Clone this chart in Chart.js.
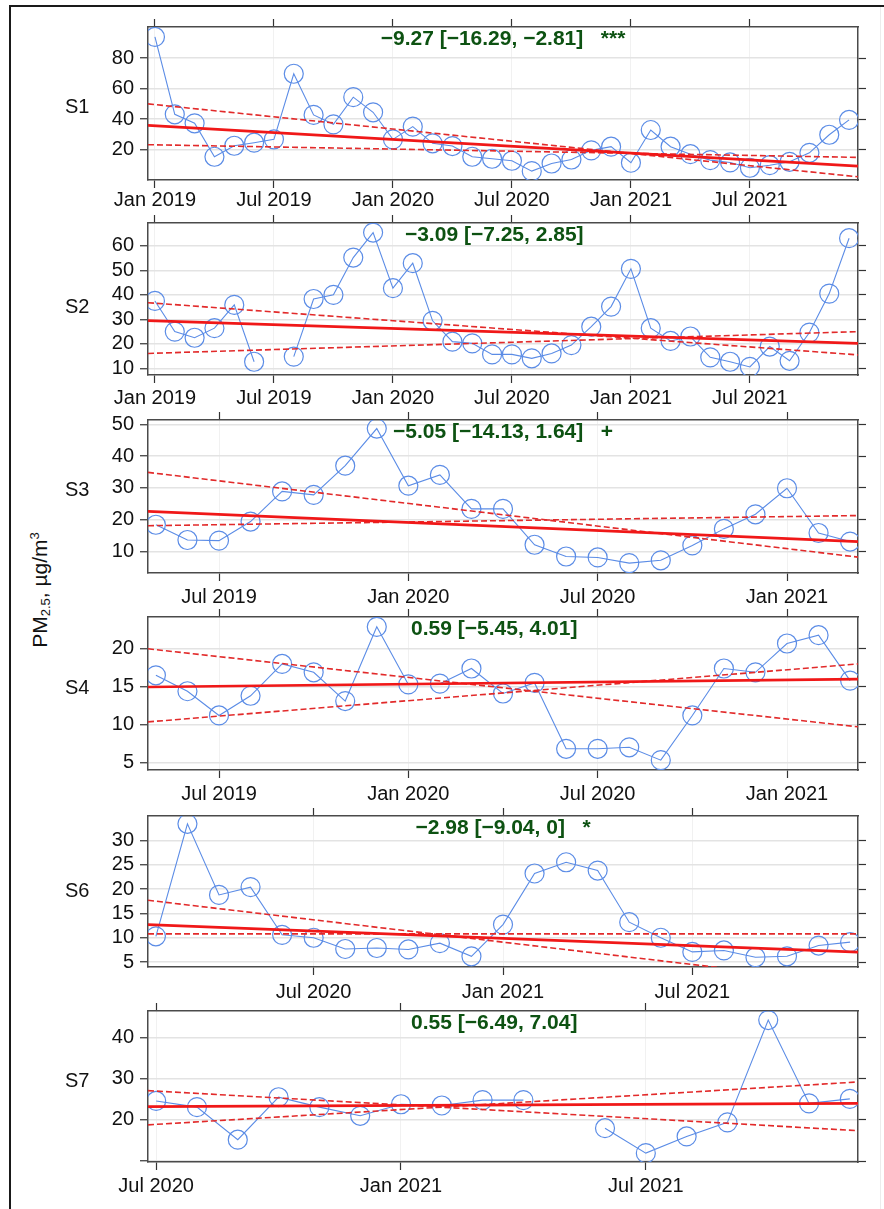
<!DOCTYPE html>
<html><head><meta charset="utf-8">
<script src="https://cdn.jsdelivr.net/npm/chart.js@4.4.1/dist/chart.umd.min.js"></script>
<style>
html,body{margin:0;padding:0;background:#fff;}
#fig{position:relative;width:884px;height:1209px;overflow:hidden;font-family:"Liberation Sans",Arial,sans-serif;background:#fff;}
#frame{position:absolute;left:9px;top:5px;width:900px;height:1300px;border-left:2px solid #1a1a1a;border-top:2px solid #1a1a1a;}
#rline{position:absolute;left:880px;top:7px;width:1px;height:1202px;background:#ececec;}
canvas{position:absolute;left:0;}
#ytitle{position:absolute;left:40px;top:590px;transform:translate(-50%,-50%) rotate(-90deg);font-size:21px;white-space:nowrap;color:#111;line-height:1;}
#ytitle sub{font-size:13px;vertical-align:-3px;}
#ytitle sup{font-size:13px;vertical-align:8px;}
</style></head>
<body><div id="fig"><div id="frame"></div><div id="rline"></div>
<div id="ytitle">PM<sub>2.5</sub>, µg/m<sup>3</sup></div>
</div>
<script>
// ---- data (month index: 0 = Jan 2019) ----
const S1_START = 0;
const S1 = [93.8,43.2,37.3,15.4,22.6,24.6,26.8,69.7,42.8,36.6,54.4,44.5,26.8,35.1,24.2,22.4,15.4,14.1,12.8,6.0,11.0,13.6,19.6,22.0,11.5,32.9,22.0,17.1,13.2,11.7,8.2,9.9,12.1,18.0,29.8,39.5];
const S2_START = 0;
const S2 = [37.5,25.0,22.5,26.4,35.9,12.7,null,14.8,38.3,40.0,55.2,65.4,42.7,52.9,29.4,20.9,20.2,15.7,15.7,14.1,16.1,19.5,27.0,35.2,50.6,26.4,21.2,23.0,14.5,12.7,10.6,18.9,13.1,24.6,40.5,63.1];
const S3_START = 4;
const S3 = [18.4,13.6,13.4,19.4,28.9,27.8,37.0,48.7,30.7,34.1,23.4,23.4,12.1,8.4,8.1,6.3,7.2,11.9,17.1,21.7,29.9,15.8,13.1];
const S4_START = 4;
const S4 = [16.5,14.4,11.2,13.8,18.0,16.9,13.1,22.9,15.3,15.4,17.4,14.1,15.5,6.8,6.8,7.0,5.3,11.2,17.4,16.9,20.7,21.8,15.8];
const S6_START = 13;
const S6 = [10.3,33.4,18.8,20.4,10.6,10.0,7.7,7.9,7.6,8.9,6.2,12.7,23.2,25.5,23.8,13.2,10.0,7.1,7.4,6.0,6.2,8.4,9.1];
const S7_START = 18;
const S7 = [24.6,23.1,15.2,25.5,23.1,21.0,23.8,23.5,24.8,24.8,null,18.0,11.95,16.0,19.4,44.2,24.0,25.1];

// trend lines: value at left edge, value at right edge of the plotted period
const T1_FIT = [36.0, 9.3],  T1_HI = [50.0, 2.3],  T1_LO = [23.3, 15.0];
const T2_FIT = [29.5, 20.2], T2_HI = [36.8, 15.5], T2_LO = [16.1, 25.0];
const T3_FIT = [22.6, 13.1], T3_HI = [34.9, 8.2],  T3_LO = [18.1, 21.3];
const T4_FIT = [14.96, 16.0],T4_HI = [20.0, 9.7],  T4_LO = [10.35, 18.0];
const T6_FIT = [12.7, 7.05], T6_HI = [17.7, 0.5],  T6_LO = [10.8, 10.8];
const T7_FIT = [23.2, 24.0], T7_HI = [27.1, 17.4], T7_LO = [18.8, 29.2];

const ANNOTS = ['\u22129.27 [\u221216.29, \u22122.81]   ***', '\u22123.09 [\u22127.25, 2.85]   ', '\u22125.05 [\u221214.13, 1.64]   +', '0.59 [\u22125.45, 4.01]   ', '\u22122.98 [\u22129.04, 0]   *', '0.55 [\u22126.49, 7.04]   '];
const ROW_LABELS = ['S1','S2','S3','S4','S6','S7'];

const X_TICKS = [0,6,12,18,24,30];
const X_TICK_LABELS = ['Jan 2019','Jul 2019','Jan 2020','Jul 2020','Jan 2021','Jul 2021'];
const Y1_TICKS = [20,40,60,80];
const Y2_TICKS = [10,20,30,40,50,60];
const Y3_TICKS = [10,20,30,40,50];
const Y4_TICKS = [5,10,15,20];
const Y6_TICKS = [5,10,15,20,25,30];
const Y7_TICKS = [10,20,30,40];
const Y7_LABELED = [20,30,40];

// ---- layout ----
const FONT = '"Liberation Sans", Arial, sans-serif';
const BLUE = '#5b8ce6', RED = '#f01818', RED_D = '#e22a2a', GREEN = '#0d5212';
const PANELS = [
  {vals:S1, start:S1_START, fit:T1_FIT, hi:T1_HI, lo:T1_LO, xmin:-0.35, xmax:35.45, ymin:0.2, ymax:100.3, yticks:Y1_TICKS, ylab:Y1_TICKS, xticks:[0,6,12,18,24,30], top:27, bottom:180, lpad:0, ldy:80},
  {vals:S2, start:S2_START, fit:T2_FIT, hi:T2_HI, lo:T2_LO, xmin:-0.35, xmax:35.45, ymin:7.3, ymax:69.3, yticks:Y2_TICKS, ylab:Y2_TICKS, xticks:[0,6,12,18,24,30], top:223, bottom:375, lpad:3, ldy:84},
  {vals:S3, start:S3_START, fit:T3_FIT, hi:T3_HI, lo:T3_LO, xmin:3.75, xmax:26.25, ymin:3.2, ymax:51.4, yticks:Y3_TICKS, ylab:Y3_TICKS, xticks:[6,12,18,24], top:420, bottom:573, lpad:4, ldy:70},
  {vals:S4, start:S4_START, fit:T4_FIT, hi:T4_HI, lo:T4_LO, xmin:3.75, xmax:26.25, ymin:4.0, ymax:24.2, yticks:Y4_TICKS, ylab:Y4_TICKS, xticks:[6,12,18,24], top:617, bottom:770, lpad:4, ldy:71},
  {vals:S6, start:S6_START, fit:T6_FIT, hi:T6_HI, lo:T6_LO, xmin:12.75, xmax:35.25, ymin:4.0, ymax:35.0, yticks:Y6_TICKS, ylab:Y6_TICKS, xticks:[18,24,30], top:816, bottom:967, lpad:5, ldy:75},
  {vals:S7, start:S7_START, fit:T7_FIT, hi:T7_HI, lo:T7_LO, xmin:17.8, xmax:35.2, ymin:9.8, ymax:46.4, yticks:Y7_TICKS, ylab:Y7_LABELED, xticks:[18,24,30], top:1011, bottom:1162, lpad:4, ldy:70}
];

const PAD_TOP = 18, PAD_BOTTOM = 34, LEFT_W = 148, RIGHT_W = 26;
const setTicks = vals => scale => { scale.ticks = vals.map(v => ({value: v})); };

const textPlugin = {
  id: 'panelTexts',
  afterDatasetsDraw(chart, args, opts) {
    const {ctx, chartArea: a} = chart;
    ctx.save();
    ctx.font = 'bold 21px ' + FONT;
    ctx.fillStyle = GREEN;
    ctx.textAlign = 'center';
    ctx.textBaseline = 'alphabetic';
    ctx.fillText(opts.annot, (a.left + a.right) / 2, a.top + 18);
    ctx.font = '20px ' + FONT;
    ctx.fillStyle = '#111';
    ctx.textAlign = 'left';
    ctx.textBaseline = 'middle';
    ctx.fillText(opts.label, 65, a.top + opts.ldy);
    ctx.restore();
  }
};

const fig = document.getElementById('fig');
PANELS.forEach((p, i) => {
  const cv = document.createElement('canvas');
  const h = (p.bottom - p.top) + PAD_TOP + PAD_BOTTOM;
  cv.width = 884; cv.height = h;
  cv.style.width = '884px'; cv.style.height = h + 'px';
  cv.style.top = (p.top - PAD_TOP) + 'px';
  fig.appendChild(cv);

  const line = (pair, color, w, dash) => ({
    data: [{x: p.xmin, y: pair[0]}, {x: p.xmax, y: pair[1]}],
    borderColor: color, borderWidth: w, borderDash: dash, pointRadius: 0, pointHoverRadius: 0,
    fill: false, tension: 0, order: 0
  });
  const datasets = [
    line(p.fit, RED, 2.7, []),
    line(p.hi, RED_D, 1.6, [6, 3]),
    line(p.lo, RED_D, 1.6, [6, 3]),
    {
      data: p.vals.map((v, k) => ({x: p.start + k, y: v})),
      borderColor: BLUE, borderWidth: 1.1, pointRadius: 9.5, pointHoverRadius: 9.5,
      pointBackgroundColor: 'rgba(0,0,0,0)', pointBorderColor: BLUE, pointBorderWidth: 1.2,
      spanGaps: false, tension: 0, fill: false, order: 1
    }
  ];
  const border = {display: true, color: '#4a4a4a', width: 1.5};
  const xlab = v => { const k = X_TICKS.indexOf(v); return k >= 0 ? X_TICK_LABELS[k] : ''; };
  new Chart(cv, {
    type: 'line',
    data: {datasets},
    plugins: [textPlugin],
    options: {
      responsive: false, animation: false, devicePixelRatio: 1,
      layout: {padding: 0},
      events: [],
      plugins: {legend: {display: false}, tooltip: {enabled: false},
        panelTexts: {annot: ANNOTS[i], label: ROW_LABELS[i], ldy: p.ldy}},
      scales: {
        x: {type: 'linear', position: 'bottom', min: p.xmin, max: p.xmax,
          afterBuildTicks: setTicks(p.xticks), afterFit: s => { s.height = PAD_BOTTOM; },
          ticks: {callback: v => xlab(v), font: {size: 20, family: FONT}, color: '#111', padding: p.lpad, maxRotation: 0, autoSkip: false},
          grid: {color: '#f1f1f1', lineWidth: 1, tickColor: '#333', tickLength: 8, tickWidth: 1.2},
          border},
        x2: {type: 'linear', position: 'top', min: p.xmin, max: p.xmax,
          afterBuildTicks: setTicks(p.xticks), afterFit: s => { s.height = PAD_TOP; },
          ticks: {display: false},
          grid: {drawOnChartArea: false, tickColor: '#333', tickLength: 8, tickWidth: 1.2},
          border},
        y: {type: 'linear', position: 'left', min: p.ymin, max: p.ymax,
          afterBuildTicks: setTicks(p.yticks), afterFit: s => { s.width = LEFT_W; },
          ticks: {callback: v => p.ylab.includes(v) ? String(v) : '', font: {size: 20, family: FONT}, color: '#111', padding: 6},
          grid: {color: '#e3e3e3', lineWidth: 1.5, tickColor: '#333', tickLength: 8, tickWidth: 1.2},
          border},
        y2: {type: 'linear', position: 'right', min: p.ymin, max: p.ymax,
          afterBuildTicks: setTicks(p.yticks), afterFit: s => { s.width = RIGHT_W; },
          ticks: {display: false},
          grid: {drawOnChartArea: false, tickColor: '#333', tickLength: 8, tickWidth: 1.2},
          border}
      }
    }
  });
});
</script>
</body></html>
